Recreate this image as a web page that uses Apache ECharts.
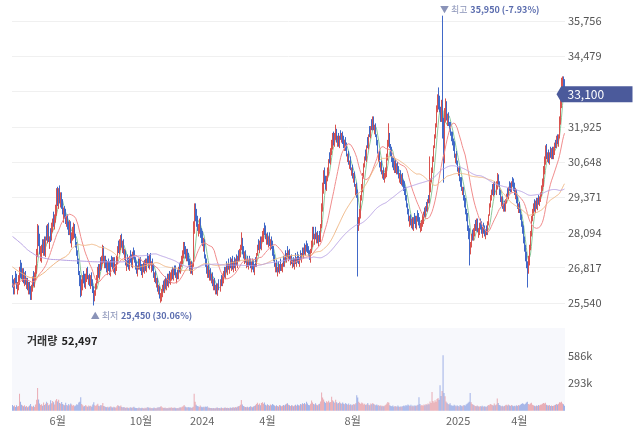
<!DOCTYPE html>
<html><head><meta charset="utf-8">
<script src="https://cdn.jsdelivr.net/npm/echarts@6/dist/echarts.min.js"></script>
<style>html,body{margin:0;padding:0;background:#fff}#c{width:640px;height:434px}</style>
</head><body><div id="c"></div>
<script>
const opens=[
26450,26300,25950,26550,26500,26000,26150,26300,26950,26900,
26400,26700,26250,26600,26200,26350,25950,26200,26050,25750,
26100,26550,26200,26450,26750,27350,28150,27950,27250,27150,
27700,27400,27800,27300,28200,27850,28250,27650,28050,27900,
28200,28700,28350,28600,28850,29600,29100,29650,29150,29450,
29150,28600,28950,28800,28400,28700,28350,28100,28400,27650,
27950,28000,28300,27850,27600,27250,27000,26600,26450,25950,
26100,26550,26450,26150,26400,26750,26300,26500,26150,26550,
26250,26100,25700,25950,26200,26350,26850,26500,27050,26850,
27050,27500,26950,27150,27000,26650,27050,26950,26600,27150,
27100,26800,27100,26650,26850,27050,27700,27400,27600,27950,
27500,27750,27200,27350,26800,27150,27100,26800,27350,27150,
26900,27450,27350,27100,26950,26600,27050,26850,27100,26900,
26600,26950,26700,27050,26750,27200,27150,26850,27250,26750,
27050,26800,26400,26600,26250,26400,25950,26100,25700,25700,
25850,26250,26000,26400,26100,26500,26200,26600,26300,26450,
26700,26450,26800,26750,26350,26700,26500,26900,26700,26950,
27050,27250,27650,27500,27150,27400,27250,27050,26700,26950,
26650,26900,28150,29000,28750,28600,28050,28150,28500,28150,
28050,27600,27750,27150,27050,26550,26850,26450,26700,26350,
26550,26150,26350,25950,26150,25850,26300,26050,26450,26250,
26350,26750,26500,26950,26650,27050,26700,27100,26800,27150,
26750,27100,26800,27200,26900,27350,27150,27300,27600,27800,
27450,27050,27350,26900,27150,26850,27150,27050,26750,27050,
27000,26650,27100,26950,27350,27750,27450,27850,27550,27900,
27850,28350,28200,27750,28000,27650,28000,27550,27850,27700,
27500,27150,26750,27000,26600,26950,26700,27050,26800,26750,
27150,26950,27350,27100,27500,27150,27400,27000,27200,26900,
27100,26850,27250,26950,27300,27200,26950,27350,27100,27450,
27250,27600,27350,27700,27600,27500,27400,27100,27450,27650,
28200,27750,28200,27800,28050,27700,28050,27850,28350,28950,
29600,30350,30050,29700,30100,30250,30850,30650,31050,31200,
31650,31300,31550,31750,31300,31600,31250,31700,31450,31700,
31500,31150,31450,31250,30750,30950,30500,30750,30250,30450,
30000,30200,29550,29800,29450,28300,28500,28700,29400,29650,
30200,30550,31000,30800,31400,31250,31800,31600,32100,31900,
32200,31750,31950,31550,31300,30750,30950,30400,30600,30150,
30350,30000,30200,30200,30850,31350,31600,31200,31100,30700,
30700,30350,30650,30300,30550,30400,30000,30250,29900,30150,
29850,29800,29650,29300,29050,28850,28400,28700,28350,28550,
28250,28700,28600,28300,28800,28700,28550,28200,28300,28400,
28550,28900,28750,29100,28950,29400,29250,29650,30000,30400,
30800,31300,31650,32050,32600,33000,32950,32450,32200,32800,
32050,30750,32300,32750,32100,32350,31950,32000,31600,31650,
31350,31300,30700,30950,30600,30250,30400,29950,30000,29550,
29650,29300,29250,28850,28700,28250,28150,27400,27650,28100,
27900,28050,28450,28250,28500,28000,28150,28500,28400,28000,
28350,28250,27950,28300,28100,28450,28800,29150,29350,29750,
29500,29850,29550,29750,30100,29850,29550,29150,29300,28950,
29150,28950,29250,29600,29400,29850,29800,29650,30000,29950,
29800,29400,29550,29250,28900,29100,28850,28600,28350,28250,
27800,27500,27300,26900,26750,27000,27600,28050,28650,28850,
29150,28900,29250,29000,29350,29150,29300,29500,29700,29850,
30300,30650,31200,30750,31000,30650,31100,30850,31100,30850,
31000,31350,31250,31550,31300,31600,32100,32700,33400,33650,33550];
const closes=[
26250,26000,26300,26450,26200,26100,26400,26650,26800,26550,
26600,26400,26500,26350,26250,26150,26100,26000,25800,26050,
26350,26350,26500,26700,27300,28000,27800,27450,27300,27450,
27500,27650,27400,27800,28000,28150,27900,27800,28000,28300,
28450,28600,28500,28900,29400,29250,29500,29350,29300,29100,
28900,28750,28800,28600,28500,28400,28200,28350,27900,27850,
28100,28200,28000,27700,27400,27100,26700,26300,26000,26200,
26350,26400,26250,26450,26600,26550,26400,26300,26400,26300,
26000,25800,25850,26100,26400,26700,26600,26800,26950,27100,
27400,27150,27000,26950,26800,26900,26850,26700,26950,27000,
26900,27050,26750,26800,27100,27450,27500,27650,27800,27700,
27600,27450,27300,27050,26950,27050,26900,27100,27200,27000,
27250,27300,27150,26900,26750,26800,26950,27000,26850,26700,
26800,26800,26950,26850,27000,27100,26950,27150,27000,26900,
26850,26600,26500,26400,26300,26100,26000,25850,25750,25900,
26050,26100,26250,26200,26350,26300,26450,26400,26500,26600,
26550,26650,26700,26600,26500,26550,26700,26800,26900,27100,
27300,27550,27450,27300,27350,27200,27000,26850,26900,26750,
26850,28300,28850,28700,28500,28300,28200,28400,28050,27900,
27800,27650,27300,27000,26750,26700,26600,26550,26500,26450,
26300,26250,26150,26050,25950,26100,26200,26250,26350,26450,
26550,26600,26700,26800,26850,26900,26850,26950,27000,26900,
26950,26900,27000,27050,27100,27200,27350,27500,27700,27400,
27300,27200,27150,27050,27000,26950,27000,26900,26950,26900,
26800,26850,27000,27250,27500,27600,27700,27650,27800,28000,
28100,28250,28000,27900,27800,27850,27750,27700,27650,27400,
27200,27000,26900,26800,26750,26800,26850,26950,26850,26900,
27000,27100,27200,27250,27350,27300,27200,27100,27050,27000,
26950,27050,27100,27100,27150,27050,27100,27200,27250,27350,
27400,27450,27500,27550,27450,27350,27200,27400,27700,28100,
28000,27900,28050,27950,27850,27900,27900,28300,29000,29700,
30200,30000,29800,30000,30300,30600,30800,31000,31300,31550,
31400,31600,31700,31500,31450,31350,31500,31600,31550,31450,
31300,31350,31200,31000,30850,30700,30600,30500,30350,30200,
30100,29900,29700,29500,28400,28450,28800,29300,29700,30100,
30450,30700,30900,31100,31300,31500,31700,31850,32000,32150,
31950,31850,31700,31400,31100,30850,30600,30500,30350,30200,
30150,30100,30300,30800,31300,31500,31300,31000,30800,30600,
30500,30550,30400,30450,30350,30200,30100,30000,30050,29900,
29750,29600,29400,29150,28900,28650,28550,28500,28450,28350,
28500,28550,28400,28600,28650,28500,28400,28300,28450,28600,
28700,28800,28900,29000,29150,29300,29500,29900,30300,30700,
31100,31500,31900,32500,32800,32900,32600,32300,32700,32000,
30700,32400,32600,32300,32200,32100,31900,31750,31550,31400,
31200,30950,30800,30650,30450,30300,30100,29900,29750,29600,
29400,29150,28900,28650,28300,28000,27500,27600,27900,27950,
28100,28250,28300,28450,28200,28100,28300,28350,28200,28150,
28200,28100,28050,28150,28400,28650,29000,29300,29500,29600,
29750,29600,29800,30000,29900,29600,29300,29250,29100,29000,
29000,29200,29400,29500,29650,29750,29700,29850,29900,29750,
29600,29500,29300,29100,29000,28950,28700,28450,28200,27850,
27550,27200,26950,26700,27100,27550,28000,28550,28800,29000,
29000,29150,29100,29200,29250,29300,29450,29650,29900,30350,
30700,31100,30900,30850,30750,30900,30950,31000,30900,31050,
31200,31300,31450,31400,31550,32150,32800,33350,33600,33500,33100];
const lows=[
26100,25850,25850,26250,26050,25850,26000,26200,26450,26400,
26300,26250,26150,26200,26050,26000,25850,25850,25650,25650,
25950,26150,26100,26350,26600,27200,27600,27300,27050,27000,
27350,27250,27250,27200,27800,27700,27750,27500,27750,27800,
28100,28300,28200,28450,28700,29050,28950,29150,29000,28950,
28750,28450,28600,28400,28300,28200,28000,28000,27700,27550,
27800,27850,27900,27550,27250,26950,26550,26150,25750,25800,
26000,26250,26100,26050,26300,26400,26200,26150,26050,26150,
25900,25450,25600,25800,26050,26250,26450,26400,26700,26750,
26950,27000,26800,26800,26650,26550,26700,26550,26500,26850,
26750,26650,26600,26550,26700,26950,27350,27300,27450,27550,
27350,27300,27100,26900,26700,26850,26750,26700,27000,26850,
26800,27150,27000,26750,26600,26500,26750,26750,26700,26550,
26450,26650,26600,26700,26650,26950,26800,26750,26900,26650,
26700,26450,26300,26250,26100,25950,25850,25700,25550,25600,
25750,25950,25900,26050,26000,26150,26100,26250,26200,26350,
26400,26350,26550,26450,26250,26400,26400,26650,26600,26850,
26950,27150,27300,27150,27050,27050,26900,26700,26600,26600,
26550,26850,28050,28500,28300,28150,27950,28050,27900,27700,
27600,27400,27150,26850,26600,26450,26450,26350,26350,26250,
26150,26000,26000,25850,25850,25800,26000,25950,26150,26150,
26250,26450,26400,26650,26550,26750,26600,26800,26700,26750,
26650,26800,26700,26900,26800,27050,27050,27200,27450,27300,
27150,26950,27000,26800,26850,26750,26900,26800,26650,26750,
26650,26550,26850,26850,27250,27450,27350,27500,27450,27750,
27750,28000,27850,27650,27650,27550,27600,27450,27500,27250,
27050,26850,26650,26650,26500,26650,26600,26700,26700,26650,
26850,26850,27050,27000,27200,27050,27100,26900,26950,26800,
26850,26750,26950,26850,27000,26950,26850,27100,27000,27250,
27150,27300,27250,27400,27350,27250,27100,27000,27350,27550,
27850,27650,27850,27700,27700,27600,27750,27750,28250,28850,
29500,29850,29650,29600,29950,30150,30600,30550,30900,31100,
31250,31200,31450,31350,31200,31200,31150,31450,31350,31300,
31150,31050,31050,30850,30650,30550,30400,30350,30150,30050,
29900,29750,29450,29350,26500,28150,28350,28600,29250,29550,
30050,30450,30700,30650,31150,31100,31550,31500,31800,31800,
31800,31650,31550,31250,30950,30650,30450,30300,30200,30050,
30000,29900,30050,30100,30700,31200,31150,30850,30650,30450,
30350,30250,30250,30200,30200,30050,29900,29850,29800,29750,
29600,29450,29250,29000,28750,28500,28300,28350,28250,28200,
28150,28400,28250,28200,28500,28350,28250,28100,28150,28300,
28400,28650,28650,28850,28850,29150,29150,29550,29900,30250,
30650,31150,31500,31900,32450,32550,32450,32100,32100,31500,
29900,30600,32100,32150,31950,31950,31750,31600,31400,31250,
31050,30800,30600,30550,30300,30150,29950,29750,29600,29450,
29250,29000,28750,28500,28150,27850,26900,27300,27550,27800,
27800,27950,28150,28150,28100,27900,28000,28200,28050,27900,
28050,27950,27850,28000,28000,28350,28700,29000,29250,29450,
29400,29450,29450,29650,29750,29450,29200,29050,28950,28850,
28850,28850,29150,29350,29300,29600,29550,29550,29750,29600,
29450,29300,29150,28950,28800,28800,28550,28300,28050,27700,
27400,27050,26800,26100,26600,26900,27450,27950,28500,28700,
28850,28800,28950,28900,29100,29050,29200,29400,29600,29750,
30200,30550,30750,30650,30600,30550,30800,30750,30750,30750,
30900,31150,31150,31300,31200,31500,32000,32600,33250,33350,33000];
const highs=[
26550,26400,26450,26700,26600,26300,26550,26850,27100,27000,
26800,26800,26650,26700,26450,26450,26300,26300,26150,26200,
26500,26700,26650,26900,27500,28400,28350,28050,27600,27650,
27850,27850,27950,27950,28350,28400,28450,27950,28250,28450,
28600,28850,28750,29100,29700,29750,29700,29800,29550,29550,
29300,29000,29050,28950,28700,28750,28500,28550,28500,28100,
28300,28450,28400,28050,27750,27450,27150,26700,26550,26400,
26550,26700,26600,26600,26800,26850,26550,26600,26550,26650,
26400,26150,26000,26250,26550,26850,26950,26950,27200,27250,
27650,27600,27250,27250,27100,27050,27150,27050,27100,27250,
27200,27200,27200,26950,27250,27600,27800,27850,28000,28050,
27800,27850,27500,27450,27100,27300,27200,27250,27450,27300,
27400,27550,27450,27200,27050,26900,27150,27150,27200,26950,
26950,27050,27100,27150,27150,27350,27250,27300,27350,27050,
27150,26950,26650,26700,26450,26450,26200,26150,25900,26050,
26200,26350,26400,26500,26450,26600,26600,26700,26650,26750,
26850,26800,26900,26900,26650,26750,26850,27000,27050,27250,
27450,27750,27750,27600,27500,27500,27350,27150,27050,27050,
27000,28500,29150,29150,28950,28700,28400,28600,28650,28250,
28150,27900,27850,27300,27150,26900,26950,26750,26800,26600,
26650,26400,26450,26200,26250,26250,26400,26400,26550,26600,
26700,26850,26850,27050,26950,27150,26950,27200,27150,27250,
27050,27200,27150,27300,27250,27450,27500,27650,28100,27900,
27600,27400,27450,27150,27250,27100,27250,27150,27050,27150,
27100,26950,27200,27350,27650,27850,27800,27950,27950,28150,
28250,28450,28350,28050,28100,27950,28100,27850,27950,27800,
27600,27300,27000,27100,26850,27050,26950,27150,26950,27000,
27250,27200,27450,27350,27600,27450,27500,27250,27300,27100,
27200,27150,27350,27200,27400,27300,27200,27450,27350,27550,
27550,27700,27650,27800,27700,27600,27450,27500,27800,28300,
28300,28050,28300,28100,28150,28000,28150,28400,29150,29900,
30350,30450,30150,30150,30450,30750,31000,31150,31450,31700,
31750,31700,32000,31850,31600,31700,31600,31800,31700,31750,
31600,31450,31550,31350,30950,31050,30700,30850,30450,30550,
30250,30300,29850,29900,29650,28650,28950,29450,29850,30250,
30600,30850,31100,31250,31550,31650,31950,31950,32200,32300,
32300,32000,32050,31650,31450,31000,31050,30650,30700,30350,
30450,30250,30450,30950,31450,32050,31700,31300,31200,30850,
30800,30700,30750,30600,30650,30500,30250,30350,30200,30250,
30000,29950,29750,29450,29150,28950,28700,28750,28600,28650,
28650,28800,28700,28700,28900,28800,28650,28450,28550,28750,
28850,29000,29050,29200,29300,29450,30850,30050,30450,30850,
31250,31650,32050,32700,33100,33350,33050,32650,32900,35950,
32250,32600,32950,32850,32400,32450,32100,32100,31750,31750,
31500,31400,30950,31050,30700,30450,30500,30100,30100,29750,
29750,29450,29350,28950,28800,28350,28250,27750,28050,28200,
28250,28400,28550,28600,28600,28250,28450,28600,28500,28300,
28450,28350,28200,28350,28500,28750,29150,29450,29650,29850,
29900,29950,29950,30250,30200,29950,29650,29400,29400,29150,
29250,29300,29500,29700,29750,29950,29900,29950,30100,30050,
29900,29700,29650,29400,29150,29200,28950,28750,28500,28350,
27950,27650,27400,27050,27250,27650,28150,28700,28950,29150,
29300,29250,29350,29350,29450,29400,29550,29800,30050,30500,
30850,31250,31300,31000,31100,31000,31200,31150,31200,31200,
31350,31450,31600,31650,31650,32300,32950,33700,33750,33750,33650];
const volumes=[
62000,48000,55000,41000,58000,45000,52000,180000,96000,64000,
55000,47000,60000,43000,51000,38000,46000,57000,72000,49000,
44000,53000,41000,66000,118000,243000,120000,78000,61000,70000,
54000,88000,62000,75000,96000,84000,58000,67000,112000,79000,
104000,91000,68000,110000,125000,98000,117000,82000,74000,93000,
71000,64000,58000,86000,62000,55000,73000,60000,78000,66000,
54000,61000,48000,57000,69000,63000,88000,95000,145000,72000,
58000,46000,52000,61000,49000,44000,56000,47000,53000,42000,
66000,92000,58000,51000,63000,76000,54000,48000,62000,57000,
84000,52000,46000,41000,38000,44000,36000,42000,47000,39000,
35000,43000,38000,33000,48000,62000,51000,45000,57000,40000,
36000,41000,34000,30000,37000,32000,28000,35000,39000,31000,
38000,42000,33000,29000,31000,27000,34000,30000,26000,32000,
29000,25000,33000,28000,36000,40000,31000,35000,27000,30000,
28000,34000,31000,26000,33000,38000,35000,41000,52000,37000,
33000,29000,36000,27000,31000,28000,34000,30000,37000,33000,
29000,35000,32000,27000,30000,26000,33000,38000,35000,44000,
48000,62000,45000,39000,36000,41000,34000,38000,31000,35000,
42000,180000,96000,64000,52000,47000,41000,55000,44000,39000,
43000,37000,46000,40000,48000,35000,32000,29000,31000,27000,
30000,26000,28000,33000,36000,29000,31000,27000,34000,30000,
28000,32000,35000,29000,33000,31000,27000,36000,30000,34000,
38000,33000,41000,36000,44000,48000,52000,63000,115000,66000,
52000,45000,41000,38000,43000,36000,40000,47000,42000,39000,
45000,51000,58000,72000,86000,64000,78000,58000,83000,92000,
76000,88000,64000,57000,70000,61000,54000,67000,59000,72000,
63000,55000,49000,58000,52000,46000,61000,56000,48000,53000,
62000,57000,66000,74000,81000,63000,58000,52000,60000,55000,
49000,57000,64000,53000,68000,60000,55000,71000,66000,79000,
73000,84000,69000,95000,77000,62000,58000,74000,110000,88000,
72000,66000,81000,64000,58000,69000,75000,98000,195000,142000,
120000,96000,84000,102000,92000,108000,87000,94000,150000,112000,
98000,86000,118000,92000,77000,84000,95000,81000,74000,88000,
76000,69000,82000,71000,65000,78000,62000,70000,58000,64000,
73000,68000,80000,165000,140000,96000,84000,72000,88000,79000,
66000,74000,61000,70000,84000,63000,58000,77000,69000,82000,
72000,64000,59000,68000,55000,62000,51000,58000,47000,54000,
49000,57000,63000,78000,94000,86000,60000,52000,48000,56000,
44000,51000,47000,42000,55000,46000,40000,48000,43000,52000,
57000,49000,61000,54000,66000,58000,51000,63000,47000,55000,
49000,60000,52000,58000,64000,145000,72000,56000,61000,53000,
66000,58000,71000,63000,77000,69000,98000,82000,200000,104000,
88000,112000,96000,124000,135000,116000,270000,158000,210000,590000,
190000,155000,98000,86000,72000,66000,81000,60000,57000,52000,
63000,55000,48000,58000,51000,46000,62000,54000,49000,57000,
61000,53000,68000,74000,86000,95000,190000,92000,71000,64000,
58000,52000,47000,55000,49000,44000,51000,46000,53000,42000,
48000,45000,41000,50000,62000,58000,73000,68000,61000,55000,
77000,58000,66000,130000,84000,62000,57000,49000,53000,46000,
51000,58000,63000,55000,67000,59000,52000,61000,56000,48000,
53000,47000,58000,51000,62000,55000,64000,72000,81000,76000,
68000,74000,88000,97000,71000,66000,78000,85000,63000,58000,
54000,49000,57000,52000,61000,55000,63000,68000,74000,82000,
78000,86000,64000,58000,55000,61000,52000,57000,50000,54000,
59000,63000,71000,66000,75000,92000,88000,96000,78000,70000,52497];
// moving-average values for days before a full window exists
const ma60Early=[[0,26850],[10,26600],[21,26450],[30,26600],[38,26850],[47,27100],[55,27280]];
const ma120Early=[[0,27950],[8,27710],[18,27390],[31,27170],[48,27100],[68,27060],[88,27030],[110,27030]];
const xTickIdx=[45,128,189,254,339,444,505];
const xTickText=['6월','10월','2024','4월','8월','2025','4월'];
const yTicks=[25540,26817,28094,29371,30648,31925,33202,34479,35756];
const volTicks=[293000,586000];

const N=closes.length;
const cats=closes.map((_,i)=>i);
const candle=closes.map((c,i)=>[opens[i],c,lows[i],highs[i]]);
const fmt=v=>Math.round(v).toLocaleString('en-US');
const UP='#d9534f', DOWN='#4169c8';
const volData=volumes.map((v,i)=>({value:v,itemStyle:{color:closes[i]>=opens[i]?'rgba(222,110,120,0.55)':'rgba(90,120,215,0.55)'}}));
function maPartial(n){const out=[];let s=0;for(let i=0;i<N;i++){s+=closes[i];if(i>=n)s-=closes[i-n];out.push([i,Math.round(s/Math.min(i+1,n))]);}return out;}
function maEarly(n,early){const out=early.slice();let s=0;for(let i=0;i<N;i++){s+=closes[i];if(i>=n)s-=closes[i-n];if(i>=n-1)out.push([i,Math.round(s/n)]);}return out;}
let maxIdx=0,minIdx=0;
for(let i=0;i<N;i++){if(highs[i]>highs[maxIdx])maxIdx=i;if(lows[i]<lows[minIdx])minIdx=i;}
const last=closes[N-1];
const pMax=((last-highs[maxIdx])/highs[maxIdx]*100).toFixed(2);
const pMin=((last-lows[minIdx])/lows[minIdx]*100).toFixed(2);
const FONT="'Noto Sans CJK KR','Noto Sans',sans-serif";
const markRich={a:{color:'#8a93b8',fontSize:9,fontFamily:FONT},b:{color:'#5a6cae',fontSize:9,fontWeight:'bold',fontFamily:FONT}};

const chart=echarts.init(document.getElementById('c'));
chart.setOption({
  animation:false,
  textStyle:{fontFamily:FONT},
  title:{left:22,top:327,text:'{a|거래량} {b|'+fmt(volumes[N-1])+'}',textStyle:{rich:{a:{fontSize:11,color:'#333',fontFamily:FONT},b:{fontSize:11,fontWeight:'bold',color:'#222',fontFamily:FONT}}}},
  grid:[
    {left:12,right:75,top:10,height:300},
    {left:12,right:75,top:328,height:82.8,show:true,backgroundColor:'#f7f8fc',borderWidth:0}
  ],
  xAxis:[
    {type:'category',data:cats,gridIndex:0,show:false},
    {type:'category',data:cats,gridIndex:1,axisLine:{show:false},axisTick:{show:false},splitLine:{show:false},
     axisLabel:{interval:(i)=>xTickIdx.includes(i),formatter:(v,i)=>xTickText[xTickIdx.indexOf(i)]||'',color:'#666',fontSize:11,margin:5}}
  ],
  yAxis:[
    {type:'value',gridIndex:0,position:'right',min:25286,max:36155,axisLine:{show:false},
     axisTick:{show:false,customValues:yTicks},
     axisLabel:{customValues:yTicks,formatter:v=>fmt(v),color:'#555',fontSize:11,margin:3},
     splitLine:{show:true,lineStyle:{color:'#f0f0f0'}}},
    {type:'value',gridIndex:1,position:'right',min:0,max:879000,axisLine:{show:false},
     axisTick:{show:false,customValues:volTicks},
     axisLabel:{customValues:volTicks,formatter:v=>Math.round(v/1000)+'k',color:'#555',fontSize:11,margin:3},
     splitLine:{show:false}}
  ],
  series:[
    {type:'line',name:'MA5',data:maPartial(5),showSymbol:false,lineStyle:{width:1,color:'#8cc99c'},itemStyle:{color:'#8cc99c'},z:1},
    {type:'candlestick',xAxisIndex:0,yAxisIndex:0,data:candle,barWidth:1,clip:false,z:2,
     itemStyle:{color:UP,color0:DOWN,borderColor:UP,borderColor0:DOWN,borderWidth:1},
     markPoint:{symbol:'circle',symbolSize:0,animation:false,z:10,
       data:[
        {coord:[maxIdx,highs[maxIdx]],label:{show:true,position:[-3,-6],align:'left',verticalAlign:'middle',formatter:'{a|▼ 최고} {b|'+fmt(highs[maxIdx])+' ('+pMax+'%)}',rich:markRich}},
        {coord:[minIdx,lows[minIdx]],label:{show:true,position:[-3,10],align:'left',verticalAlign:'middle',formatter:'{a|▲ 최저} {b|'+fmt(lows[minIdx])+' ('+pMin+'%)}',rich:markRich}},
        {coord:[N-1,last],symbol:'path://M0,8L5,0L80,0L80,16L5,16Z',symbolSize:[76,16],symbolKeepAspect:false,symbolOffset:[30,0],
         itemStyle:{color:'#4b5a9b'},
         label:{show:true,position:[11,8],align:'left',verticalAlign:'middle',color:'#fff',fontSize:12,fontFamily:FONT,formatter:fmt(last)}}
       ]}
    },
    {type:'line',name:'MA20',data:maPartial(20),showSymbol:false,lineStyle:{width:1,color:'#f08c8c'},itemStyle:{color:'#f08c8c'},z:3},
    {type:'line',name:'MA60',data:maEarly(60,ma60Early),showSymbol:false,smooth:true,lineStyle:{width:1,color:'#efb683'},itemStyle:{color:'#efb683'},z:3},
    {type:'line',name:'MA120',data:maEarly(120,ma120Early),showSymbol:false,smooth:true,lineStyle:{width:1,color:'#b7a1e3'},itemStyle:{color:'#b7a1e3'},z:3},
    {type:'bar',xAxisIndex:1,yAxisIndex:1,data:volData,barWidth:1}
  ]
});
</script></body></html>
